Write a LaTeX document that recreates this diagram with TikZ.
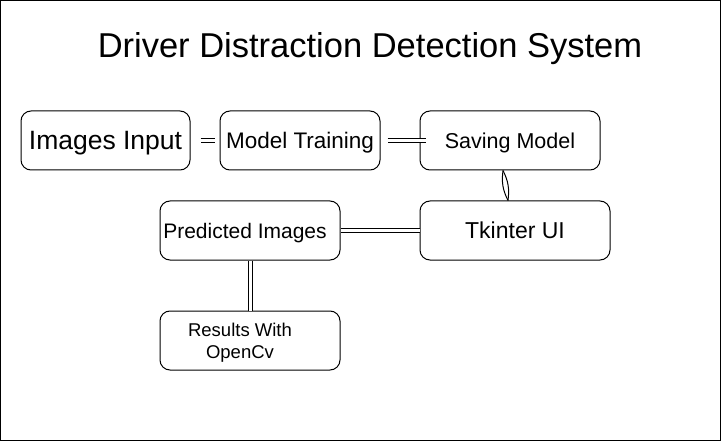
\documentclass[tikz,border=0pt]{standalone}
\usepackage{fontspec}
\setmainfont{Liberation Sans}

\tikzset{
    box/.style={draw, rounded corners=10pt, line width=1pt, minimum width=#1, minimum height=59pt, align=center, text depth=0pt},
    link/.style={double, double distance=3pt, line width=1pt}
}

\begin{document}
\begin{tikzpicture}[x=1pt, y=-1pt]

    % Define the frame around the whole diagram
    \useasboundingbox (0,0) rectangle (721,441);
    \draw[line width=1pt] (0.5,0.5) rectangle (720.5,440.5);

    % Add the title at the top
    \node[font=\fontsize{34.5}{40}\selectfont] (title) at (370,48.5) {Driver Distraction Detection System};

    % Place the boxes of the first row
    \node[box=169pt, font=\fontsize{26.5}{31}\selectfont] (input) at (105.5,140.5) {Images Input};
    \node[box=160pt, font=\fontsize{22.5}{27}\selectfont] (training) at (300,140.5) {Model Training};
    \node[box=180pt, font=\fontsize{21.5}{26}\selectfont] (saving) at (510,140.5) {Saving Model};

    % Place the boxes of the second and third rows
    \node[box=190pt, font=\fontsize{23}{28}\selectfont] (tkinter) at (515,230.5) {Tkinter UI};
    \node[box=180pt, font=\fontsize{21}{25}\selectfont] (predicted) at (250,230.5) {\hspace*{-10pt}Predicted Images};
    \node[box=180pt, font=\fontsize{18.5}{22}\selectfont] (results) at (250,340.5) {Results With\hspace*{20pt}\\OpenCv\hspace*{20pt}};

    % Connect the boxes with double lines
    \draw[link, shorten <=10pt, shorten >=5pt] (input) -- (training);
    \draw[link, shorten <=7pt, shorten >=-6pt] (training) -- (saving);
    \coordinate (lensTop) at ([xshift=-7pt]saving.south);
    \coordinate (lensBottom) at ([xshift=-7pt]tkinter.north);
    \draw[line width=1pt] (lensTop) to[bend left=17] (lensBottom);
    \draw[line width=1pt] (lensTop) to[bend right=17] (lensBottom);
    \draw[link] (tkinter) -- (predicted);
    \draw[link] (predicted) -- (results);

\end{tikzpicture}
\end{document}
